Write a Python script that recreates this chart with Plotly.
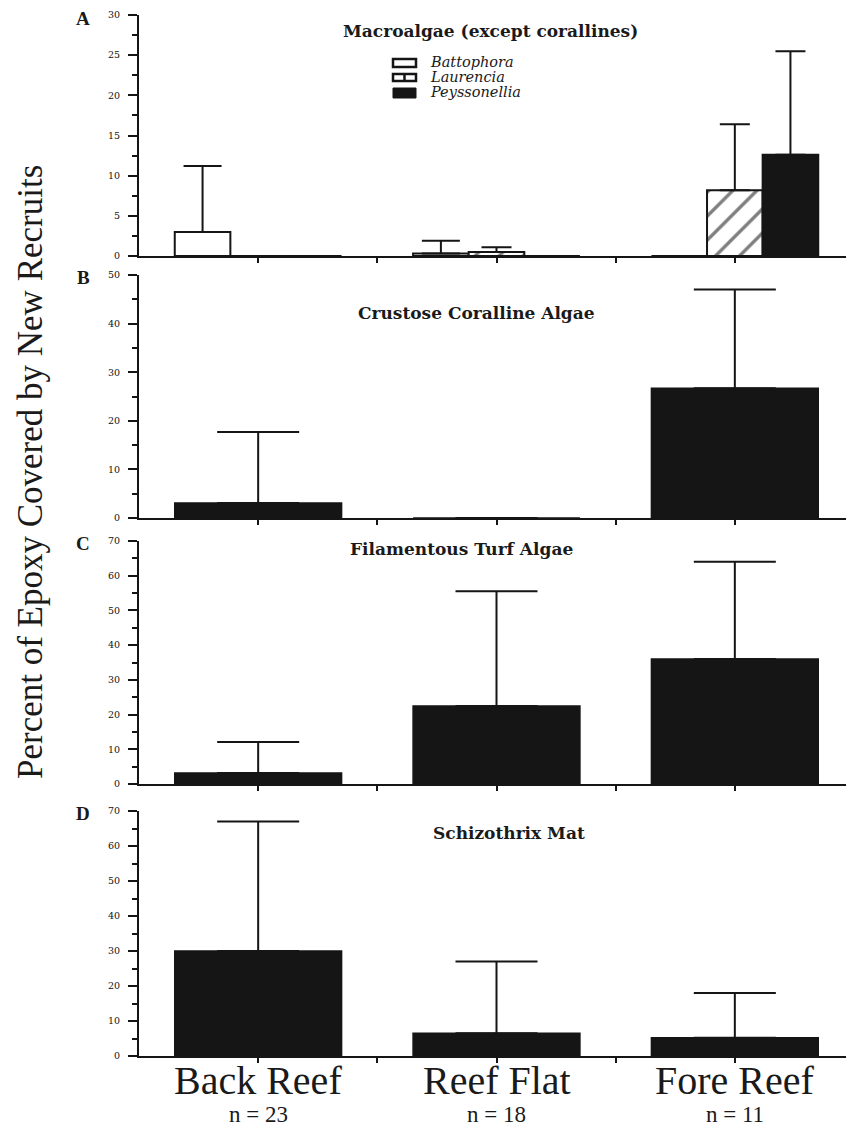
import plotly.graph_objects as go

# ---------------- data ----------------
categories = ["Back Reef", "Reef Flat", "Fore Reef"]
n_labels = ["n = 23", "n = 18", "n = 11"]
x_pos = [0, 1, 2]

macro_battophora = [3.0, 0.3, 0.0]
macro_battophora_err = [8.2, 1.6, None]
macro_laurencia = [0.0, 0.5, 8.2]
macro_laurencia_err = [None, 0.6, 8.2]
macro_peyssonellia = [0.0, 0.0, 12.6]
macro_peyssonellia_err = [None, None, 12.9]

crustose = [3.1, 0.0, 26.7]
crustose_err = [14.6, None, 20.3]

turf = [3.2, 22.5, 36.0]
turf_err = [8.9, 33.0, 28.0]

schizo = [30.0, 6.5, 5.2]
schizo_err = [37.0, 20.5, 12.8]

panel_titles = ["Macroalgae (except corallines)", "Crustose Coralline Algae",
                "Filamentous Turf Algae", "Schizothrix Mat"]
panel_letters = ["A", "B", "C", "D"]
legend_names = ["Battophora", "Laurencia", "Peyssonellia"]
y_title = "Percent of Epoxy Covered by New Recruits"

# ---------------- layout helpers ----------------
# page body has an 8px margin, so the figure is drawn 8px smaller and offset
OFF = 8
W, H = 854 - OFF, 1128 - OFF
PLOT_LEFT, PLOT_TOP, PLOT_BOTTOM = 139, 15, 1056   # on-screen pixels
L, T = PLOT_LEFT - OFF, PLOT_TOP - OFF
B = H - (PLOT_BOTTOM - OFF)
R = 0
PW, PH = W - L - R, H - T - B


def px_x(px):
    return (px - PLOT_LEFT) / PW


def px_y(py):
    return (PLOT_BOTTOM - py) / PH


BLACK = "#151515"
serif = "Liberation Serif"
dserif = "DejaVu Serif"

fig = go.Figure()


def err(vals, w):
    return dict(type="data", symmetric=False, array=vals,
                arrayminus=[0] * len(vals), thickness=2, width=w, color=BLACK)


# Panel A (grouped)
fig.add_trace(go.Bar(x=x_pos, y=macro_battophora, name=legend_names[0],
                     marker=dict(color="white", line=dict(color=BLACK, width=2)),
                     error_y=err(macro_battophora_err, 19), xaxis="x", yaxis="y",
                     showlegend=False))
fig.add_trace(go.Bar(x=x_pos, y=macro_laurencia, name=legend_names[1],
                     marker=dict(color="white", line=dict(color=BLACK, width=2),
                                 pattern=dict(shape="/", size=17, solidity=0.2,
                                              fgcolor="black", bgcolor="white")),
                     error_y=err(macro_laurencia_err, 15), xaxis="x", yaxis="y",
                     showlegend=False))
fig.add_trace(go.Bar(x=x_pos, y=macro_peyssonellia, name=legend_names[2],
                     marker=dict(color=BLACK, line=dict(color=BLACK, width=2)),
                     error_y=err(macro_peyssonellia_err, 15), xaxis="x", yaxis="y",
                     showlegend=False))

# Panels B, C, D
for vals, errs, ax in [(crustose, crustose_err, "2"), (turf, turf_err, "3"),
                       (schizo, schizo_err, "4")]:
    fig.add_trace(go.Bar(x=x_pos, y=vals, marker=dict(color=BLACK, line=dict(color=BLACK, width=1.5)),
                         error_y=err(errs, 41), xaxis="x" + ax, yaxis="y" + ax,
                         showlegend=False))

# axes
panels_px = [(15, 256, 30, 5, 2.5), (275, 518, 50, 10, 5),
             (541, 784, 70, 10, 5), (811, 1056, 70, 10, 5)]
layout_axes = {}
for i, (top, bot, ymax, dt, mdt) in enumerate(panels_px):
    sfx = "" if i == 0 else str(i + 1)
    dom = [max(0, px_y(bot)), min(1, px_y(top))]
    layout_axes["xaxis" + sfx] = dict(
        domain=[0, 1], anchor="y" + sfx, range=[-0.5, 2.5],
        tickvals=[0, 0.5, 1, 1.5, 2], showticklabels=False,
        ticks="outside", ticklen=5, tickwidth=2,
        tickcolor=BLACK, showline=True, linewidth=2, linecolor=BLACK,
        showgrid=False, zeroline=False,
    )
    layout_axes["yaxis" + sfx] = dict(
        domain=dom, anchor="x" + sfx, range=[0, ymax], dtick=dt, tick0=0,
        ticks="outside", ticklen=9, tickwidth=2, tickcolor=BLACK,
        ticklabelstandoff=6,
        minor=dict(dtick=mdt, ticks="outside", ticklen=5, tickwidth=2, tickcolor=BLACK),
        showline=True, linewidth=2, linecolor=BLACK, showgrid=False, zeroline=False,
        tickfont=dict(family=dserif, size=9.5, color="#111"),
    )

annotations = []
# panel titles
title_pos = [(490, 31), (476, 313), (461, 549), (509, 833)]
for t, (cx, cy) in zip(panel_titles, title_pos):
    annotations.append(dict(text="<b>" + t + "</b>", x=px_x(cx), y=px_y(cy), xref="paper", yref="paper",
                            xanchor="center", yanchor="middle", showarrow=False,
                            font=dict(family=dserif, size=17, color="#1a1a1a")))
# panel letters
letter_y = [19, 278, 543, 813]
for lt, ly in zip(panel_letters, letter_y):
    annotations.append(dict(text="<b>" + lt + "</b>", x=px_x(83), y=px_y(ly), xref="paper", yref="paper",
                            xanchor="center", yanchor="middle", showarrow=False,
                            font=dict(family=serif, size=19, color="#1a1a1a")))
# y title
annotations.append(dict(text=y_title, x=px_x(31), y=px_y(472), xref="paper", yref="paper",
                        xanchor="center", yanchor="middle", showarrow=False, textangle=-90,
                        font=dict(family=serif, size=35, color="#1a1a1a")))
# category labels and n labels
for c, cat, nl in zip(x_pos, categories, n_labels):
    annotations.append(dict(text=cat, x=c, y=px_y(1080), xref="x4", yref="paper",
                            xanchor="center", yanchor="middle", showarrow=False,
                            font=dict(family=serif, size=40, color="#1a1a1a")))
    annotations.append(dict(text=nl, x=c, y=px_y(1114), xref="x4", yref="paper",
                            xanchor="center", yanchor="middle", showarrow=False,
                            font=dict(family=serif, size=23, color="#1a1a1a")))
# legend text
leg_text_y = [62, 77, 92]
for nm, ly in zip(legend_names, leg_text_y):
    annotations.append(dict(text="<i>" + nm + "</i>", x=px_x(428), y=px_y(ly), xref="paper", yref="paper",
                            xanchor="left", yanchor="middle", showarrow=False,
                            font=dict(family=dserif, size=14.5, color="#1a1a1a")))

# legend keys
shapes = []
kx0, kx1 = px_x(393), px_x(416)
shapes.append(dict(type="rect", xref="paper", yref="paper", x0=kx0, x1=kx1, y0=px_y(67), y1=px_y(59),
                   line=dict(color=BLACK, width=2.5), fillcolor="white"))
shapes.append(dict(type="rect", xref="paper", yref="paper", x0=kx0, x1=kx1, y0=px_y(81), y1=px_y(74),
                   line=dict(color=BLACK, width=2.5), fillcolor="white"))
shapes.append(dict(type="line", xref="paper", yref="paper", x0=px_x(404.5), x1=px_x(404.5),
                   y0=px_y(81), y1=px_y(74), line=dict(color=BLACK, width=2.5)))
shapes.append(dict(type="rect", xref="paper", yref="paper", x0=kx0, x1=kx1, y0=px_y(98), y1=px_y(88),
                   line=dict(color=BLACK, width=1), fillcolor=BLACK))

fig.update_layout(
    width=W, height=H, margin=dict(l=L, r=R, t=T, b=B),
    paper_bgcolor="white", plot_bgcolor="white",
    barmode="group", bargap=0.3, bargroupgap=0,
    annotations=annotations, shapes=shapes, showlegend=False,
    **layout_axes,
)

fig.write_html("out.html")
